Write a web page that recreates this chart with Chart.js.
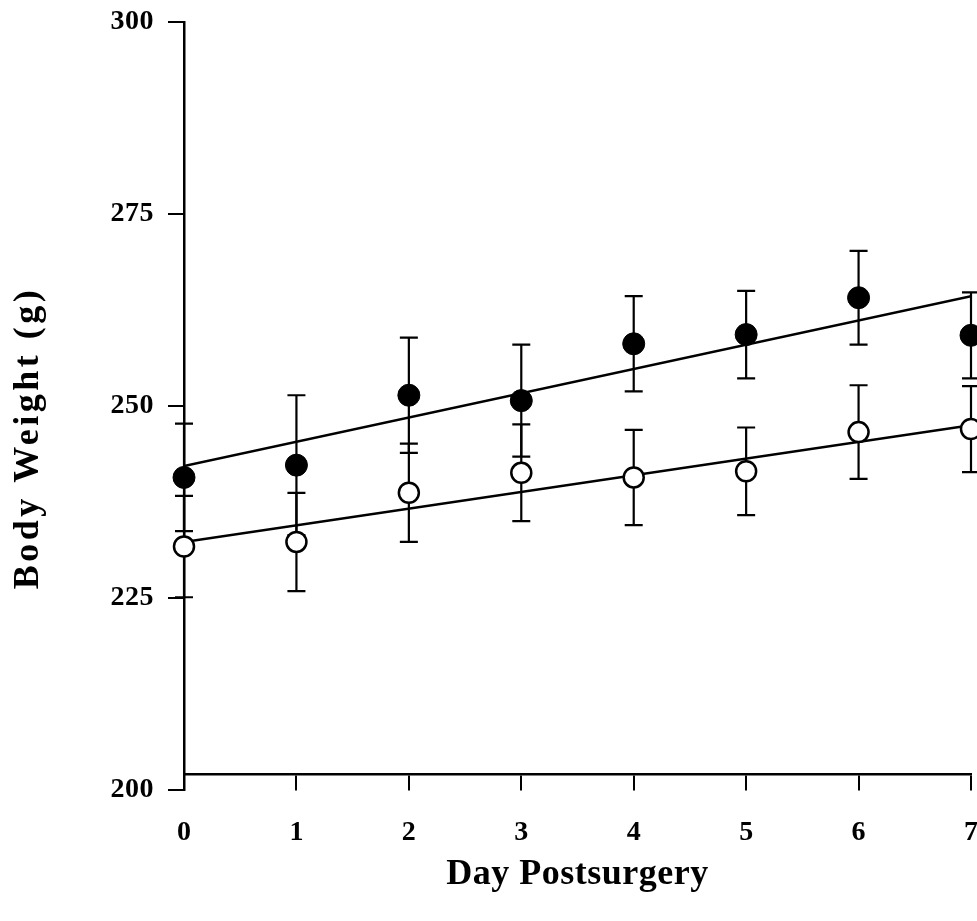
<!DOCTYPE html>
<html>
<head>
<meta charset="utf-8">
<script src="https://cdn.jsdelivr.net/npm/chart.js@4.4.1/dist/chart.umd.min.js"></script>
<style>
  html, body { margin: 0; padding: 0; background: #fff; }
  #wrap { width: 977px; height: 921px; }
</style>
</head>
<body>
<div id="wrap"><canvas id="c" width="977" height="921"></canvas></div>
<script>
// ---- data ----
const days = [0, 1, 2, 3, 4, 5, 6, 7];
const dayLabels = ['0', '1', '2', '3', '4', '5', '6', '7'];
const yTicks = [200, 225, 250, 275, 300];

const filledMean = [240.7, 242.3, 251.4, 250.7, 258.1, 259.3, 264.1, 259.2];
const filledErr  = [7.0, 9.1, 7.5, 7.3, 6.2, 5.7, 6.1, 5.6];
const openMean   = [231.7, 232.3, 238.7, 241.3, 240.7, 241.5, 246.6, 247.0];
const openErr    = [6.6, 6.4, 6.4, 6.3, 6.2, 5.7, 6.1, 5.6];

const fitDays   = [0, 7];
const filledFit = [242.2, 264.3];
const openFit   = [232.3, 247.5];

const toXY = (xs, ys) => xs.map((x, i) => ({ x: x, y: ys[i] }));

const SERIF = '"Liberation Serif", "Times New Roman", serif';

function spaced(scale, titleSpacing, labelSpacing, shiftY) {
  if (scale._spacedDone) return;
  scale._spacedDone = true;
  const origTitle = scale.drawTitle;
  scale.drawTitle = function () {
    const ctx = this.ctx;
    ctx.save();
    ctx.letterSpacing = titleSpacing;
    if (shiftY) ctx.translate(0, shiftY);
    origTitle.apply(this, arguments);
    ctx.restore();
  };
  const origLabels = scale.drawLabels;
  scale.drawLabels = function () {
    const ctx = this.ctx;
    ctx.save();
    ctx.letterSpacing = labelSpacing;
    origLabels.apply(this, arguments);
    ctx.restore();
  };
}

const errorBars = {
  id: 'errorBars',
  beforeDatasetsDraw(chart) {
    const ctx = chart.ctx;
    const xs = chart.scales.x, ys = chart.scales.y;
    const groups = [[filledMean, filledErr], [openMean, openErr]];
    ctx.save();
    ctx.strokeStyle = '#000';
    ctx.lineWidth = 2.2;
    groups.forEach(([m, e]) => {
      days.forEach((d, i) => {
        const px = xs.getPixelForValue(d);
        const top = ys.getPixelForValue(m[i] + e[i]);
        const bot = ys.getPixelForValue(m[i] - e[i]);
        ctx.beginPath();
        ctx.moveTo(px, top); ctx.lineTo(px, bot);
        ctx.moveTo(px - 9, top); ctx.lineTo(px + 9, top);
        ctx.moveTo(px - 9, bot); ctx.lineTo(px + 9, bot);
        ctx.stroke();
      });
    });
    ctx.restore();
  }
};

new Chart(document.getElementById('c'), {
  type: 'scatter',
  data: {
    datasets: [
      { label: 'Filled fit', type: 'line', data: toXY(fitDays, filledFit),
        borderColor: '#000', borderWidth: 2.5, pointRadius: 0, fill: false, order: 3 },
      { label: 'Open fit', type: 'line', data: toXY(fitDays, openFit),
        borderColor: '#000', borderWidth: 2.5, pointRadius: 0, fill: false, order: 3 },
      { label: 'Filled', data: toXY(days, filledMean), pointRadius: 11,
        pointBackgroundColor: '#000', pointBorderColor: '#000', pointBorderWidth: 1, order: 1, clip: false },
      { label: 'Open', data: toXY(days, openMean), pointRadius: 10,
        pointBackgroundColor: '#fff', pointBorderColor: '#000', pointBorderWidth: 2.5, order: 1, clip: false }
    ]
  },
  options: {
    responsive: false,
    animation: false,
    events: [],
    layout: { autoPadding: false, padding: { top: 22, right: 6, bottom: 131, left: 0 } },
    plugins: { legend: { display: false }, tooltip: { enabled: false } },
    scales: {
      x: {
        type: 'linear',
        min: 0, max: 7,
        position: { y: 202 },
        afterFit(s) { s.paddingLeft = 0; s.paddingRight = 0; spaced(s, '0.5px', '0px', 0); },
        afterBuildTicks(s) { s.ticks = days.map(v => ({ value: v })); },
        border: { display: true, color: '#000', width: 2.5 },
        grid: { drawOnChartArea: false, drawTicks: true, tickLength: 15, color: '#000', lineWidth: 2 },
        ticks: {
          color: '#000', padding: 26, maxRotation: 0,
          font: { family: SERIF, size: 28, weight: 'bold' },
          callback: (v) => dayLabels[days.indexOf(v)]
        },
        title: {
          display: true, text: 'Day Postsurgery', color: '#000',
          font: { family: SERIF, size: 36, weight: 'bold' },
          padding: { top: -22, bottom: 0 }
        }
      },
      y: {
        type: 'linear',
        min: 200, max: 300,
        position: 'left',
        afterFit(s) { s.width = 184; s.paddingTop = 0; s.paddingBottom = 0; spaced(s, '3.5px', '0.5px', 32); },
        afterBuildTicks(s) { s.ticks = yTicks.map(v => ({ value: v })); },
        border: { display: true, color: '#000', width: 2.5 },
        grid: { drawOnChartArea: false, drawTicks: true, tickLength: 16, color: '#000', lineWidth: 2 },
        ticks: {
          color: '#000', padding: 14,
          font: { family: SERIF, size: 28, weight: 'bold' }
        },
        title: {
          display: true, text: 'Body Weight (g)', color: '#000',
          font: { family: SERIF, size: 36, weight: 'bold' },
          padding: { top: 7, bottom: 0 }
        }
      }
    }
  },
  plugins: [errorBars]
});
</script>
</body>
</html>
